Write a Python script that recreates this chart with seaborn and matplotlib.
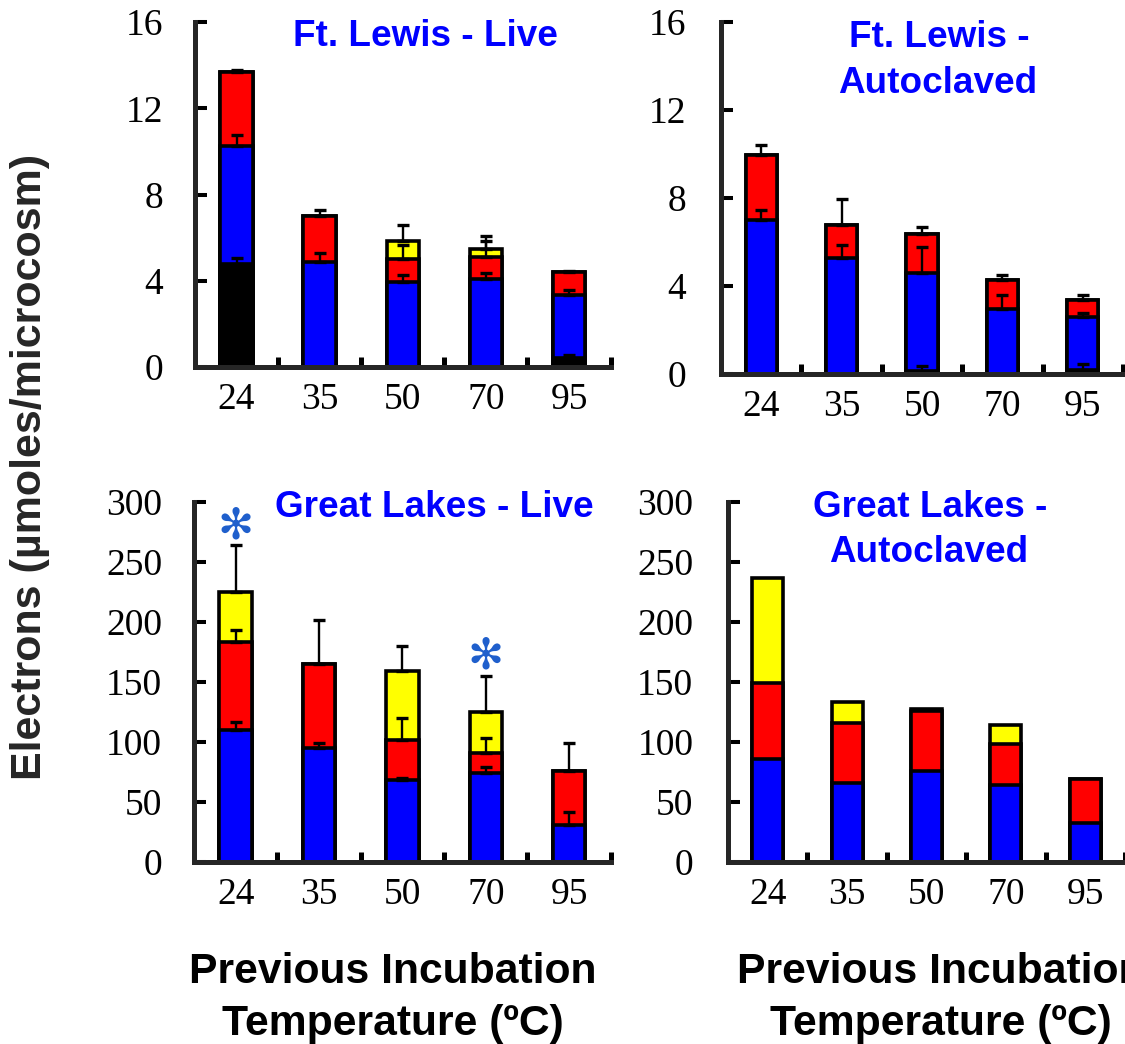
import numpy as np
import pandas as pd
import matplotlib
matplotlib.use("Agg")
import matplotlib.pyplot as plt
import seaborn as sns
from matplotlib.ticker import FixedLocator, MultipleLocator

# Previous incubation temperatures (x categories)
temps = ["24", "35", "50", "70", "95"]

# Ft. Lewis - Live: stacked segments (bottom to top) and upper SE
fl_live_black = [4.78, 0.0, 0.0, 0.0, 0.40]
fl_live_blue = [5.48, 4.88, 3.95, 4.06, 2.96]
fl_live_red = [3.41, 2.10, 1.04, 1.06, 1.03]
fl_live_yellow = [0.0, 0.0, 0.85, 0.34, 0.0]
fl_live_black_err = [0.27, 0.0, 0.0, 0.0, 0.14]
fl_live_blue_err = [0.50, 0.39, 0.31, 0.31, 0.21]
fl_live_red_err = [0.10, 0.28, 0.67, 0.72, 0.08]
fl_live_yellow_err = [0.0, 0.0, 0.73, 0.62, 0.0]

# Ft. Lewis - Autoclaved
fl_auto_black = [0.0, 0.0, 0.15, 0.0, 0.20]
fl_auto_blue = [6.98, 5.27, 4.44, 2.97, 2.38]
fl_auto_red = [2.99, 1.49, 1.77, 1.29, 0.77]
fl_auto_yellow = [0.0, 0.0, 0.0, 0.0, 0.0]
fl_auto_black_err = [0.0, 0.0, 0.23, 0.0, 0.27]
fl_auto_blue_err = [0.49, 0.61, 1.18, 0.61, 0.21]
fl_auto_red_err = [0.42, 1.21, 0.32, 0.22, 0.24]
fl_auto_yellow_err = [0.0, 0.0, 0.0, 0.0, 0.0]

# Great Lakes - Live
gl_live_black = [0.0, 0.0, 0.0, 0.0, 0.0]
gl_live_blue = [110.0, 95.0, 68.0, 74.0, 31.0]
gl_live_red = [73.0, 70.0, 34.0, 16.5, 45.0]
gl_live_yellow = [42.0, 0.0, 57.0, 34.5, 0.0]
gl_live_black_err = [0.0, 0.0, 0.0, 0.0, 0.0]
gl_live_blue_err = [7.0, 4.5, 2.0, 5.0, 11.0]
gl_live_red_err = [10.0, 37.0, 18.0, 13.0, 23.0]
gl_live_yellow_err = [39.0, 0.0, 21.0, 30.0, 0.0]
gl_live_significant = [True, False, False, True, False]

# Great Lakes - Autoclaved
gl_auto_black = [0.0, 0.0, 0.0, 0.0, 0.0]
gl_auto_blue = [86.0, 66.0, 75.5, 64.5, 32.5]
gl_auto_red = [63.0, 50.0, 50.0, 34.0, 37.0]
gl_auto_yellow = [88.0, 17.0, 2.3, 15.5, 0.0]

layer_colors = ["#000000", "#0000FF", "#FF0000", "#FFFF00"]

W, H = 1125, 1044
sns.set_theme(style="ticks")
plt.rcParams["font.family"] = ["Liberation Serif", "DejaVu Serif"]
plt.rcParams["axes.linewidth"] = 3.6

fig = plt.figure(figsize=(W / 100, H / 100), dpi=100)


def px_axes(left, top, right, bottom):
    return fig.add_axes([left / W, 1 - bottom / H, (right - left) / W, (bottom - top) / H])


def draw_panel(ax, layers, errs, ymax, ystep, ypad=23):
    cum = np.cumsum(np.array(layers, dtype=float), axis=0)
    # tallest cumulative layer first so lower segments sit on top of it
    for i in reversed(range(len(layers))):
        df = pd.DataFrame({"temp": temps, "value": cum[i]})
        sns.barplot(data=df, x="temp", y="value", order=temps, color=layer_colors[i],
                    saturation=1, width=0.39, edgecolor="black", linewidth=2.6,
                    errorbar=None, ax=ax)
    if errs is not None:
        xs = np.arange(len(temps))
        for i, e in enumerate(errs):
            e = np.array(e, dtype=float)
            m = e > 0
            if m.any():
                ax.errorbar(xs[m], cum[i][m], yerr=[np.zeros(m.sum()), e[m]], fmt="none",
                            ecolor="black", elinewidth=1.7, capsize=4.3, capthick=2.4,
                            zorder=6)
    ax.set_xlim(-0.5, 4.5)
    ax.set_ylim(0, ymax)
    ax.yaxis.set_major_locator(MultipleLocator(ystep))
    ax.xaxis.set_minor_locator(FixedLocator([0.5, 1.5, 2.5, 3.5, 4.5]))
    ax.set_xlabel("")
    ax.set_ylabel("")
    for s in ["top", "right"]:
        ax.spines[s].set_visible(False)
    for s in ["left", "bottom"]:
        ax.spines[s].set_linewidth(3.6)
        ax.spines[s].set_zorder(7)
    ax.tick_params(axis="y", direction="in", length=8.6, width=2.9, pad=ypad,
                   labelsize=27, colors="black")
    ax.tick_params(axis="x", which="major", length=0, pad=11, labelsize=27, colors="black")
    ax.tick_params(axis="x", which="minor", direction="in", length=7, width=3.6,
                   colors="black")
    ax.set_facecolor("white")
    return cum


ax_tl = px_axes(195, 22, 610.6, 367)
draw_panel(ax_tl,
           [fl_live_black, fl_live_blue, fl_live_red, fl_live_yellow],
           [fl_live_black_err, fl_live_blue_err, fl_live_red_err, fl_live_yellow_err],
           16, 4)

ax_tr = px_axes(721, 22, 1123, 374)
draw_panel(ax_tr,
           [fl_auto_black, fl_auto_blue, fl_auto_red, fl_auto_yellow],
           [fl_auto_black_err, fl_auto_blue_err, fl_auto_red_err, fl_auto_yellow_err],
           16, 4, ypad=25)

ax_bl = px_axes(194, 502, 610.8, 862)
cum_bl = draw_panel(ax_bl,
                    [gl_live_black, gl_live_blue, gl_live_red, gl_live_yellow],
                    [gl_live_black_err, gl_live_blue_err, gl_live_red_err, gl_live_yellow_err],
                    300, 50)

ax_br = px_axes(728, 502, 1125, 862)
draw_panel(ax_br,
           [gl_auto_black, gl_auto_blue, gl_auto_red, gl_auto_yellow],
           None, 300, 50, ypad=25)

# significance markers above the highest error bar of each flagged bar
tips = np.max(cum_bl + np.array([gl_live_black_err, gl_live_blue_err, gl_live_red_err,
                                 gl_live_yellow_err]), axis=0)
for i, sig in enumerate(gl_live_significant):
    if sig:
        ax_bl.text(i, tips[i] + 16, "\u273B", ha="center", va="center", fontsize=31,
                   color="#1f5fcc", family="DejaVu Sans", zorder=8)


def ftext(x, y, s, size, color="black", **kw):
    fig.text(x / W, 1 - y / H, s, fontsize=size, color=color, weight="bold",
             family=["Liberation Sans", "DejaVu Sans"], ha="center", va="baseline", **kw)


# panel titles
ftext(425, 46, "Ft. Lewis - Live", 26.6, "#0000FF")
ftext(939, 47, "Ft. Lewis -", 26.6, "#0000FF")
ftext(938, 93, "Autoclaved", 26.6, "#0000FF")
ftext(434, 517, "Great Lakes - Live", 26.6, "#0000FF")
ftext(930, 517, "Great Lakes -", 26.6, "#0000FF")
ftext(929, 562, "Autoclaved", 26.6, "#0000FF")

# axis titles
ftext(393, 983, "Previous Incubation", 30.7)
ftext(393, 1035, "Temperature (\u00baC)", 30.7)
ftext(941, 983, "Previous Incubation", 30.7)
ftext(941, 1035, "Temperature (\u00baC)", 30.7)

fig.text(30 / W, 1 - 467 / H, "Electrons (\u00b5moles/microcosm)", rotation=90,
         ha="center", va="center", fontsize=31, weight="bold",
         family=["Liberation Sans", "DejaVu Sans"])

fig.savefig("out.png", dpi=100, facecolor="white")
